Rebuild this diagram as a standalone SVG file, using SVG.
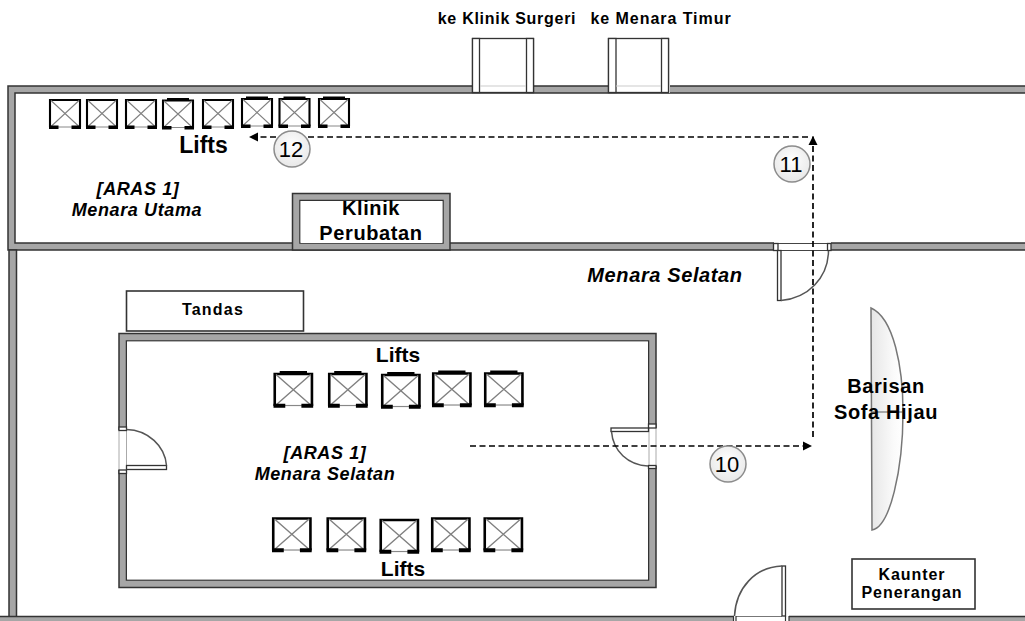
<svg xmlns="http://www.w3.org/2000/svg" width="1025" height="621" viewBox="0 0 1025 621">
<style>
text{font-family:"Liberation Sans",Arial,sans-serif;fill:#000;text-anchor:middle}
.b{font-weight:700}
.i{font-weight:700;font-style:italic}
.sp{letter-spacing:.62px}
.sp2{letter-spacing:.95px}
.sp3{letter-spacing:.72px}
.wall{fill:#a6a6a6;stroke:#333;stroke-width:1.5}
.gap{fill:#fff;stroke:none}
.jamb{fill:#fff;stroke:#333;stroke-width:1.3}
.arc{fill:none;stroke:#555;stroke-width:1.5}
.leaf{fill:#fff;stroke:#333;stroke-width:1.3}
.box{fill:#fff;stroke:#333;stroke-width:1.6}
.route{fill:none;stroke:#000;stroke-width:1.7;stroke-dasharray:6 3.5}
</style>
<defs>
<linearGradient id="sofaFill" x1="0" x2="1" y1="0" y2="0"><stop offset="0" stop-color="#e6e6e6"/><stop offset="0.7" stop-color="#fafafa"/><stop offset="1" stop-color="#fff"/></linearGradient>
<radialGradient id="numFill" cx="0.5" cy="0.4" r="0.7"><stop offset="0" stop-color="#fff"/><stop offset="1" stop-color="#e4e4e4"/></radialGradient>
<marker id="arrow" markerUnits="userSpaceOnUse" markerWidth="10" markerHeight="10" refX="9" refY="5" orient="auto"><path d="M0 0.5L9 5L0 9.5Z" fill="#000"/></marker>
<g id="lift">
<rect x="1" y="2" width="30" height="27.500" fill="#fff" stroke="none"/>
<path d="M1 30V2.500H31V30" fill="none" stroke="#000" stroke-width="2.100"/>
<path d="M9 29.500H23" stroke="#888" stroke-width="1"/>
<path d="M2 3L30 29M30 3L2 29" stroke="#808080" stroke-width="1.100" fill="none"/>
<path d="M0 28h9.500v3.500h-9.500zM22.500 28h9.500v3.500h-9.500z" fill="#000"/>
</g>
<g id="liftT">
<use href="#lift"/>
<path d="M5 0h22v3h-22z" fill="#000"/>
</g>
</defs>

<g id="walls">
<path class="wall" fill-rule="evenodd" d="M8 86H1030V250H8ZM15 93V243H1030V93Z"/>
<path class="wall" d="M9 250H16.500V621H9Z"/>
<rect class="wall" x="-5" y="616.500" width="1040" height="10"/>
</g>

<g id="door-klinik-surgeri">
<rect class="gap" x="472" y="84" width="62" height="9"/>
<rect class="jamb" x="472.500" y="38.500" width="61" height="54"/>
<rect class="jamb" x="472.500" y="38.500" width="7" height="54"/>
<rect class="jamb" x="526.500" y="38.500" width="7" height="54"/>
<path d="M480 86H526" stroke="#ccc" stroke-width="1.200"/>
</g>
<g id="door-menara-timur">
<rect class="gap" x="608" y="84" width="62" height="9"/>
<rect class="jamb" x="608.500" y="38.500" width="60" height="54"/>
<rect class="jamb" x="608.500" y="38.500" width="7.500" height="54"/>
<rect class="jamb" x="661.500" y="38.500" width="7" height="54"/>
<path d="M616 86H661" stroke="#ccc" stroke-width="1.200"/>
</g>

<g id="klinik-perubatan">
<path class="wall" fill-rule="evenodd" d="M292.500 193.500H450V250H292.500ZM300 200.500V243H443V200.500Z"/>
<rect x="300.500" y="201" width="142" height="42" fill="#fff"/>
<text class="b sp" x="371" y="215" font-size="20">Klinik</text>
<text class="b sp" x="371" y="240" font-size="20">Perubatan</text>
</g>

<g id="door-north">
<rect class="gap" x="774" y="242" width="57" height="10"/>
<path d="M778 243.500H827M778 250.500H827" stroke="#444" stroke-width="1"/>
<rect class="jamb" x="773.500" y="243.500" width="4.500" height="7"/>
<rect class="jamb" x="827.500" y="243.500" width="3.500" height="7"/>
<rect class="leaf" x="777.500" y="250.500" width="3.500" height="50"/>
<path class="arc" d="M781 300.500C808 298 828 278 828.500 251"/>
</g>

<g id="room-lift-lobby">
<path class="wall" fill-rule="evenodd" d="M119 333.500H656V587.500H119ZM126.500 341V580H648.500V341Z"/>
<rect x="127" y="341.500" width="521" height="238" fill="#fff"/>
</g>

<g id="door-west">
<rect class="gap" x="118" y="430" width="9" height="40"/>
<path d="M119 430V470M126.500 430V470" stroke="#aaa" stroke-width="1"/>
<rect class="jamb" x="119" y="427" width="7.500" height="3.500"/>
<rect class="jamb" x="119" y="470" width="7.500" height="3.500"/>
<rect class="leaf" x="126.500" y="465.500" width="40" height="4"/>
<path class="arc" d="M126.500 429.500C148 430 165 446 166.500 465.500"/>
</g>
<g id="door-east">
<rect class="gap" x="648" y="428" width="9" height="38"/>
<path d="M649 428V466M656 428V466" stroke="#aaa" stroke-width="1"/>
<rect class="jamb" x="648.500" y="424" width="7.500" height="4"/>
<rect class="jamb" x="648.500" y="465.500" width="7.500" height="3"/>
<rect class="leaf" x="611" y="428" width="37.500" height="3.500"/>
<path class="arc" d="M611.500 431.500C613 451 628 465 648 466"/>
</g>
<g id="door-south">
<rect class="gap" x="734" y="612" width="55" height="10"/>
<path d="M736 616.500H782" stroke="#777" stroke-width="1"/>
<path d="M733.500 616V621M736 616V621M785.500 616V621M789 616V621" stroke="#333" stroke-width="1.200"/>
<rect class="leaf" x="782" y="566" width="3.500" height="50"/>
<path class="arc" d="M782 566C755 567 736 588 734.500 616"/>
</g>

<g id="lifts-main">
<use href="#lift" x="49" y="97.500"/>
<use href="#lift" x="86" y="97.500"/>
<use href="#lift" x="125" y="97.500"/>
<use href="#liftT" x="162" y="98"/>
<use href="#lift" x="202" y="97.500"/>
<use href="#liftT" x="241" y="96.500"/>
<use href="#liftT" x="278.500" y="96.500"/>
<use href="#liftT" x="318" y="96.500"/>
</g>
<g id="lifts-south-top">
<use href="#liftT" transform="translate(273.500 371) scale(1.24 1.17)"/>
<use href="#liftT" transform="translate(328 371) scale(1.24 1.17)"/>
<use href="#liftT" transform="translate(381 372) scale(1.24 1.17)"/>
<use href="#liftT" transform="translate(432 370.500) scale(1.24 1.17)"/>
<use href="#liftT" transform="translate(484 370.500) scale(1.24 1.17)"/>
</g>
<g id="lifts-south-bottom">
<use href="#lift" transform="translate(272 515.500) scale(1.24 1.17)"/>
<use href="#lift" transform="translate(326.500 515.500) scale(1.24 1.17)"/>
<use href="#lift" transform="translate(379.500 517) scale(1.24 1.17)"/>
<use href="#lift" transform="translate(431 515.500) scale(1.24 1.17)"/>
<use href="#lift" transform="translate(483.500 515.500) scale(1.24 1.17)"/>
</g>

<g id="tandas">
<rect class="box" x="126.500" y="291" width="177" height="40"/>
<text class="b" x="213" y="315" font-size="16" letter-spacing="1.2">Tandas</text>
</g>
<g id="kaunter-penerangan">
<rect class="box" x="852" y="559" width="123" height="50"/>
<text class="b sp2" x="912" y="580" font-size="16">Kaunter</text>
<text class="b sp2" x="912" y="598" font-size="16">Penerangan</text>
</g>
<g id="sofa">
<path d="M871 308C894 318 903 368 903 412C903 470 890 527 872 530Z" fill="url(#sofaFill)" stroke="#777" stroke-width="1.500"/>
<path d="M872 412H903" stroke="#777" stroke-width="1.200"/>
<text class="b sp" x="886" y="393" font-size="20">Barisan</text>
<text class="b sp" x="886" y="419" font-size="20">Sofa Hijau</text>
</g>

<g id="connectors">
<path class="route" d="M470 446H812" marker-end="url(#arrow)"/>
<path class="route" d="M813 437V136" marker-end="url(#arrow)"/>
<path class="route" d="M808 137H249" marker-end="url(#arrow)"/>
</g>

<g id="step-12"><circle cx="292" cy="149" r="18" fill="url(#numFill)" stroke="#8c8c8c" stroke-width="1.500"/><text x="291" y="157" font-size="22">12</text></g>
<g id="step-11"><circle cx="792" cy="164" r="18" fill="url(#numFill)" stroke="#8c8c8c" stroke-width="1.500"/><text x="791" y="172" font-size="22">11</text></g>
<g id="step-10"><circle cx="728" cy="464" r="18" fill="url(#numFill)" stroke="#8c8c8c" stroke-width="1.500"/><text x="727" y="472" font-size="22">10</text></g>

<g id="labels">
<text class="b sp3" x="507" y="24" font-size="16">ke Klinik Surgeri</text>
<text class="b sp2" x="661" y="24" font-size="16">ke Menara Timur</text>
<text class="b" x="203.500" y="153" font-size="23">Lifts</text>
<text class="i sp" x="138" y="195" font-size="18">[ARAS 1]</text>
<text class="i sp" x="137" y="216" font-size="18">Menara Utama</text>
<text class="i sp" x="665" y="282" font-size="20">Menara Selatan</text>
<text class="b" x="398" y="362" font-size="21">Lifts</text>
<text class="i sp" x="325" y="459" font-size="18">[ARAS 1]</text>
<text class="i sp" x="325" y="480" font-size="18">Menara Selatan</text>
<text class="b" x="403" y="576" font-size="21">Lifts</text>
</g>
</svg>
